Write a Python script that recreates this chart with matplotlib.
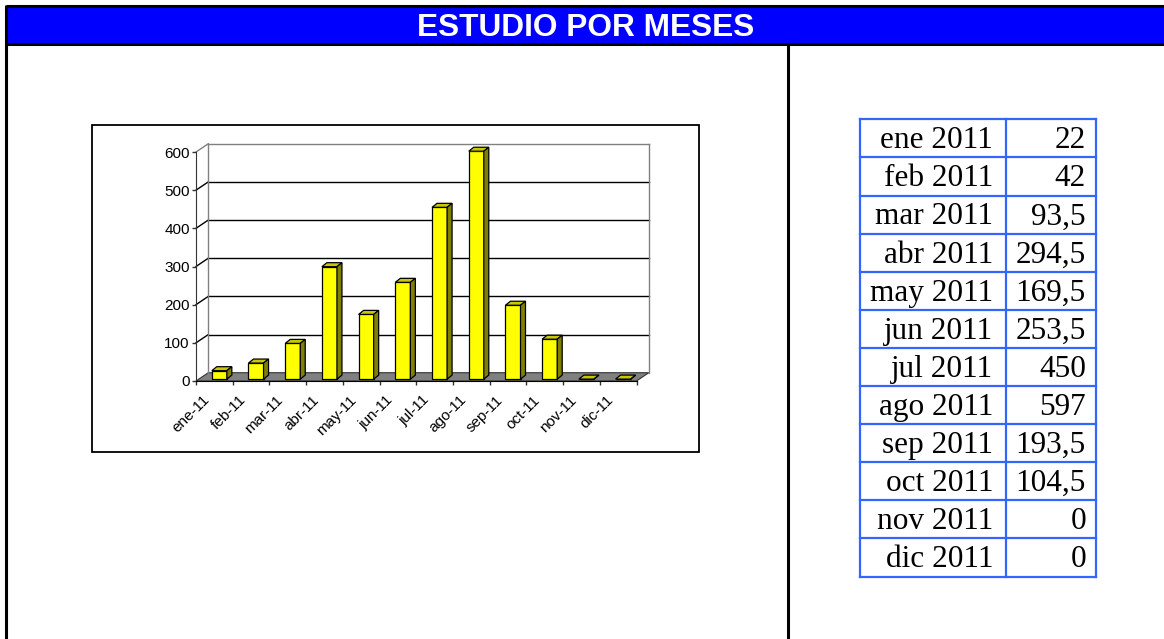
import matplotlib
matplotlib.use('Agg')
import matplotlib.pyplot as plt
from matplotlib.patches import Rectangle, Polygon

# data
months_short = ["ene-11", "feb-11", "mar-11", "abr-11", "may-11", "jun-11",
                "jul-11", "ago-11", "sep-11", "oct-11", "nov-11", "dic-11"]
months_long = ["ene 2011", "feb 2011", "mar 2011", "abr 2011", "may 2011", "jun 2011",
               "jul 2011", "ago 2011", "sep 2011", "oct 2011", "nov 2011", "dic 2011"]
values = [22, 42, 93.5, 294.5, 169.5, 253.5, 450, 597, 193.5, 104.5, 0, 0]
yticks = [0, 100, 200, 300, 400, 500, 600]
title = "ESTUDIO POR MESES"

W, H = 1164, 639
fig = plt.figure(figsize=(W / 100, H / 100), dpi=100, facecolor="white")

# page layout in pixel coords
bg = fig.add_axes([0, 0, 1, 1])
bg.set_xlim(0, W)
bg.set_ylim(H, 0)
bg.axis("off")

bg.add_patch(Rectangle((6, 6), W - 6, 37.5, facecolor="#0000FF", edgecolor="none"))
bg.plot([6, W], [6, 6], color="black", lw=2.2, solid_capstyle="butt")
bg.plot([6, W], [43.5, 43.5], color="black", lw=2.2, solid_capstyle="butt")
bg.plot([6, 6], [5, H], color="black", lw=2.2, solid_capstyle="butt")
bg.plot([788, 788], [43.5, H], color="black", lw=2.2, solid_capstyle="butt")
bg.text(586, 36, title, color="white", fontsize=22.8, fontweight="bold",
        family="Liberation Sans", ha="center", va="baseline")

# chart frame
bg.add_patch(Rectangle((92, 125), 607, 326.5, facecolor="white",
                       edgecolor="black", lw=1.3))

# table on the right
tb_top, row_h = 119.3, 38.1
col_x = [860, 1005.7, 1096]
tb_col = "#3366FF"
n = len(values)
for k in range(n + 1):
    bg.plot([col_x[0], col_x[2]], [tb_top + k * row_h] * 2, color=tb_col, lw=1.6)
for cx in col_x:
    bg.plot([cx, cx], [tb_top, tb_top + n * row_h], color=tb_col, lw=1.6)
for k in range(n):
    yb = tb_top + k * row_h + 29
    bg.text(993, yb, months_long[k], fontsize=22.5, family="Liberation Serif",
            ha="right", va="baseline")
    bg.text(1086, yb, f"{values[k]:g}".replace(".", ","), fontsize=22.5,
            family="Liberation Serif", ha="right", va="baseline")

# chart axes: x 0..12 -> px 196..636.5, y 0..600 -> px 381..152
ax = fig.add_axes([196 / W, (H - 381) / H, 440.5 / W, 229 / H])
ax.set_xlim(0, 12)
ax.set_ylim(0, 600)
ax.patch.set_alpha(0)
for s in ["top", "right"]:
    ax.spines[s].set_visible(False)
ax.spines["left"].set_color("#333333")
ax.spines["bottom"].set_color("black")

dx, dy = 0.335, 21.7      # depth of the back wall
bdx, bdy = 0.136, 10.5    # depth of each bar
base = 5

# floor and walls
ax.add_patch(Polygon([(0, 0), (12, 0), (12 + dx, dy), (dx, dy)], closed=True,
                     facecolor="#808080", edgecolor="#333333", lw=0.8,
                     clip_on=False, zorder=1))
for v in yticks[1:]:
    c = "#808080" if v == yticks[-1] else "black"
    ax.plot([dx, 12 + dx], [v + dy, v + dy], color=c, lw=1, clip_on=False, zorder=1)
    ax.plot([0, dx], [v, v + dy], color=c, lw=1, clip_on=False, zorder=1)
ax.plot([dx, dx], [dy, yticks[-1] + dy], color="#808080", lw=1, clip_on=False, zorder=1)
ax.plot([12 + dx, 12 + dx], [dy, yticks[-1] + dy], color="#808080", lw=1,
        clip_on=False, zorder=1)

# bars
xs = [i + 0.43 for i in range(n)]
bw = 0.41
ax.bar(xs, values, width=bw, bottom=base, align="edge", color="#FFFF00",
       edgecolor="black", lw=0.9, zorder=3)
for x0, v in zip(xs, values):
    top = base + v
    ax.add_patch(Polygon([(x0, top), (x0 + bw, top), (x0 + bw + bdx, top + bdy),
                          (x0 + bdx, top + bdy)], closed=True, facecolor="#C8C800",
                         edgecolor="black", lw=0.9, zorder=3, clip_on=False))
    ax.add_patch(Polygon([(x0 + bw, base), (x0 + bw + bdx, base + bdy),
                          (x0 + bw + bdx, top + bdy), (x0 + bw, top)], closed=True,
                         facecolor="#808000", edgecolor="black", lw=0.9, zorder=3,
                         clip_on=False))

# ticks
ax.set_yticks(yticks)
ax.tick_params(axis="y", direction="out", length=3, width=1, color="#333333",
               pad=1.5, labelsize=11)
ax.set_xticks(range(13), [""] * 13)
ax.tick_params(axis="x", which="major", direction="out", length=3, width=1,
               color="#333333")
ax.set_xticks([i + 0.3 for i in range(n)], months_short, minor=True)
ax.tick_params(axis="x", which="minor", length=0, pad=12, labelsize=11)
plt.setp(ax.get_xticklabels(minor=True), rotation=45, ha="right", va="center",
         rotation_mode="anchor")
for lab in ax.get_yticklabels() + ax.get_xticklabels(minor=True):
    lab.set_family("Liberation Sans")

plt.savefig("out.png", dpi=100)
plt.close()
